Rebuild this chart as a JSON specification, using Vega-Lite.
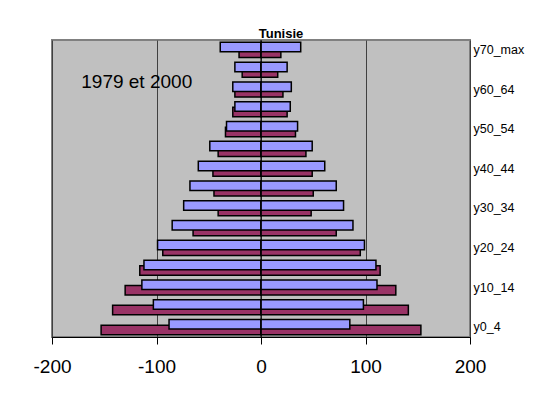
{
  "$schema": "https://vega.github.io/schema/vega-lite/v6.json",
  "width": 418,
  "height": 297,
  "autosize": "none",
  "padding": {"left": 52, "top": 40, "right": 73, "bottom": 66},
  "background": "white",
  "title": {"text": "Tunisie", "font": "Liberation Sans", "fontSize": 13, "fontWeight": "bold", "color": "black", "offset": -1, "dx": 20, "anchor": "middle"},
  "config": {
    "view": {"fill": "#C0C0C0", "stroke": "#808080", "strokeWidth": 2},
    "font": "Liberation Sans"
  },
  "datasets": {
    "pop": [
      {"age": "y0_4", "year": "1979", "value": -153}, {"age": "y0_4", "year": "2000", "value": -88},
      {"age": "y5_9", "year": "1979", "value": -142}, {"age": "y5_9", "year": "2000", "value": -103},
      {"age": "y10_14", "year": "1979", "value": -130}, {"age": "y10_14", "year": "2000", "value": -114},
      {"age": "y15_19", "year": "1979", "value": -116}, {"age": "y15_19", "year": "2000", "value": -112},
      {"age": "y20_24", "year": "1979", "value": -94}, {"age": "y20_24", "year": "2000", "value": -99},
      {"age": "y25_29", "year": "1979", "value": -65}, {"age": "y25_29", "year": "2000", "value": -85},
      {"age": "y30_34", "year": "1979", "value": -41}, {"age": "y30_34", "year": "2000", "value": -74},
      {"age": "y35_39", "year": "1979", "value": -45}, {"age": "y35_39", "year": "2000", "value": -68},
      {"age": "y40_44", "year": "1979", "value": -46}, {"age": "y40_44", "year": "2000", "value": -60},
      {"age": "y45_49", "year": "1979", "value": -41}, {"age": "y45_49", "year": "2000", "value": -49},
      {"age": "y50_54", "year": "1979", "value": -34}, {"age": "y50_54", "year": "2000", "value": -33},
      {"age": "y55_59", "year": "1979", "value": -27}, {"age": "y55_59", "year": "2000", "value": -25},
      {"age": "y60_64", "year": "1979", "value": -25}, {"age": "y60_64", "year": "2000", "value": -27},
      {"age": "y65_69", "year": "1979", "value": -18}, {"age": "y65_69", "year": "2000", "value": -25},
      {"age": "y70_max", "year": "1979", "value": -21}, {"age": "y70_max", "year": "2000", "value": -39},
      {"age": "y0_4", "year": "1979", "value": 153}, {"age": "y0_4", "year": "2000", "value": 85},
      {"age": "y5_9", "year": "1979", "value": 141}, {"age": "y5_9", "year": "2000", "value": 98},
      {"age": "y10_14", "year": "1979", "value": 129}, {"age": "y10_14", "year": "2000", "value": 111},
      {"age": "y15_19", "year": "1979", "value": 114}, {"age": "y15_19", "year": "2000", "value": 110},
      {"age": "y20_24", "year": "1979", "value": 95}, {"age": "y20_24", "year": "2000", "value": 99},
      {"age": "y25_29", "year": "1979", "value": 72}, {"age": "y25_29", "year": "2000", "value": 88},
      {"age": "y30_34", "year": "1979", "value": 48}, {"age": "y30_34", "year": "2000", "value": 79},
      {"age": "y35_39", "year": "1979", "value": 50}, {"age": "y35_39", "year": "2000", "value": 72},
      {"age": "y40_44", "year": "1979", "value": 49}, {"age": "y40_44", "year": "2000", "value": 61},
      {"age": "y45_49", "year": "1979", "value": 43}, {"age": "y45_49", "year": "2000", "value": 49},
      {"age": "y50_54", "year": "1979", "value": 33}, {"age": "y50_54", "year": "2000", "value": 35},
      {"age": "y55_59", "year": "1979", "value": 25}, {"age": "y55_59", "year": "2000", "value": 28},
      {"age": "y60_64", "year": "1979", "value": 21}, {"age": "y60_64", "year": "2000", "value": 29},
      {"age": "y65_69", "year": "1979", "value": 16}, {"age": "y65_69", "year": "2000", "value": 25},
      {"age": "y70_max", "year": "1979", "value": 19}, {"age": "y70_max", "year": "2000", "value": 38}
    ]
  },
  "data": {"name": "pop"},
  "encoding": {
    "y": {
      "field": "age", "type": "nominal",
      "scale": {"domain": ["y70_max","y65_69","y60_64","y55_59","y50_54","y45_49","y40_44","y35_39","y30_34","y25_29","y20_24","y15_19","y10_14","y5_9","y0_4"], "paddingInner": 0, "paddingOuter": 0},
      "axis": {"orient": "right", "title": null, "values": ["y0_4","y10_14","y20_24","y30_34","y40_44","y50_54","y60_64","y70_max"], "ticks": false, "domain": false, "labelPadding": 3, "labelFontSize": 12.5, "labelColor": "black", "labelFont": "Liberation Sans"}
    }
  },
  "layer": [
    {
      "transform": [{"filter": "datum.year == '1979'"}],
      "mark": {"type": "bar", "height": 9.5, "yOffset": 2.8, "color": "#993366", "stroke": "black", "strokeWidth": 1.5},
      "encoding": {
        "x": {"field": "value", "type": "quantitative",
          "scale": {"domain": [-200, 200], "nice": false, "zero": false},
          "axis": {"title": null, "values": [-200, -100, 0, 100, 200], "labelExpr": "toString(datum.value)", "grid": true, "gridColor": "#404040", "gridWidth": 1, "domainColor": "black", "domainWidth": 1, "tickColor": "black", "tickSize": 7, "labelFontSize": 19, "labelFont": "Liberation Sans", "labelColor": "black", "labelPadding": 13, "labelFlush": false}
        },
        "x2": {"datum": 0}
      }
    },
    {
      "transform": [{"filter": "datum.year == '2000'"}],
      "mark": {"type": "bar", "height": 9.5, "yOffset": -2.8, "color": "#9999FF", "stroke": "black", "strokeWidth": 1.5},
      "encoding": {
        "x": {"field": "value", "type": "quantitative"},
        "x2": {"datum": 0}
      }
    },
    {
      "data": {"values": [{"zero": 0}]},
      "mark": {"type": "rule", "color": "black", "strokeWidth": 1},
      "encoding": {"x": {"field": "zero", "type": "quantitative"}, "y": null}
    },
    {
      "data": {"values": [{"label": "1979 et 2000"}]},
      "mark": {"type": "text", "align": "left", "baseline": "middle", "fontSize": 19, "font": "Liberation Sans", "color": "black", "dy": 12},
      "encoding": {"x": {"datum": -172}, "y": {"datum": "y65_69"}, "text": {"field": "label"}}
    }
  ]
}
